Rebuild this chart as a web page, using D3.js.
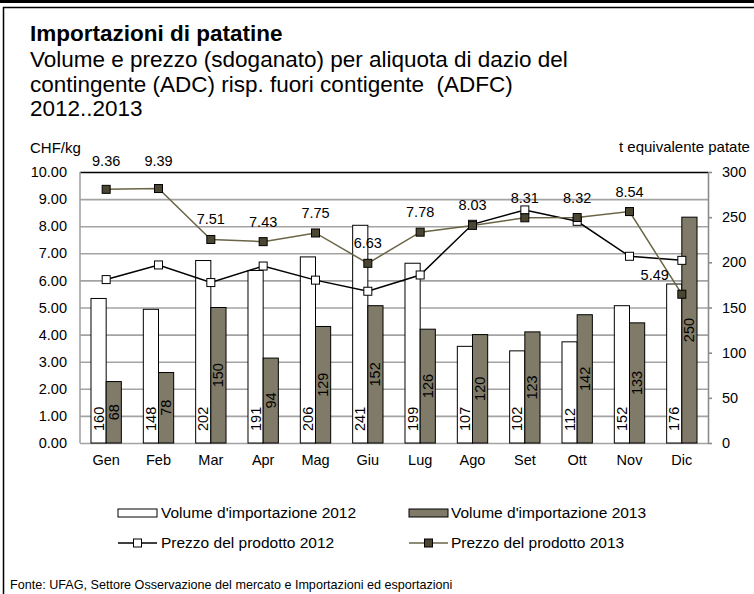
<!DOCTYPE html>
<html>
<head>
<meta charset="utf-8">
<script src="https://cdn.jsdelivr.net/npm/d3@7"></script>
<style>
  body { margin: 0; background: #fff; }
  svg text { font-family: "Liberation Sans", Arial, sans-serif; fill: #000; }
</style>
</head>
<body>
<script>
// data
var months = ["Gen","Feb","Mar","Apr","Mag","Giu","Lug","Ago","Set","Ott","Nov","Dic"];
var vol2012 = [160,148,202,191,206,241,199,107,102,112,152,176];
var vol2013 = [68,78,150,94,129,152,126,120,123,142,133,250];
var price2012 = [6.03,6.57,5.92,6.53,6.01,5.60,6.20,8.07,8.60,8.18,6.89,6.74];
var price2013 = [9.36,9.39,7.51,7.43,7.75,6.63,7.78,8.03,8.31,8.32,8.54,5.49];
var leftTicks = [0,1,2,3,4,5,6,7,8,9,10];
var rightTicks = [0,50,100,150,200,250,300];

var W = 754, H = 594;
var plot = {left: 80, right: 708, top: 172, bottom: 443};
var plotW = plot.right - plot.left;

var colBar13 = "#807b68";
var colLine13 = "#6b6446";
var colMark13 = "#4b4631";
var colGrid = "#a3a3a3";
var tickFont = "14.5px";

var svg = d3.select("body").append("svg")
    .attr("width", W)
    .attr("height", H);

//Frame
svg.append("rect").attr("x", 0).attr("y", 0).attr("width", W).attr("height", 3).attr("fill", "#000");
svg.append("rect")
    .attr("x", 3.5).attr("y", 7.5)
    .attr("width", W + 10).attr("height", H)
    .attr("fill", "none")
    .attr("stroke", "#000")
    .attr("stroke-width", 1.5);

//Title & subtitle
svg.append("text")
    .attr("x", 30).attr("y", 41)
    .style("font-size", "22.5px")
    .style("font-weight", "bold")
    .text("Importazioni di patatine");

var subLines = ["Volume e prezzo (sdoganato) per aliquota di dazio del",
                "contingente (ADC) risp. fuori contigente  (ADFC)",
                "2012..2013"];
svg.selectAll("text.sub")
    .data(subLines)
    .enter()
    .append("text")
    .attr("class", "sub")
    .attr("x", 30)
    .attr("y", function(d, i) { return 67 + i * 24.5; })
    .style("font-size", "22.5px")
    .style("white-space", "pre")
    .text(function(d) { return d; });

//Scales
var x = d3.scaleBand()
    .domain(months)
    .range([plot.left, plot.right]);

var yL = d3.scaleLinear().domain([0, 10]).range([plot.bottom, plot.top]);
var yR = d3.scaleLinear().domain([0, 300]).range([plot.bottom, plot.top]);

var barW = x.bandwidth() * 0.29;

//Left axis + gridlines
var gLeft = svg.append("g")
    .attr("transform", "translate(" + plot.left + ",0)")
    .call(d3.axisLeft(yL).tickValues(leftTicks).tickSize(-plotW).tickPadding(13).tickFormat(d3.format(".2f")));
gLeft.select(".domain").remove();
gLeft.selectAll(".tick line")
    .attr("stroke", function(d) { return d == 10 ? "#000" : colGrid; })
    .attr("stroke-width", 1.6);
gLeft.selectAll(".tick text")
    .style("font-size", tickFont)
    .style("font-family", "'Liberation Sans', Arial, sans-serif");

//plot border (left)
svg.append("line")
    .attr("x1", plot.left).attr("x2", plot.left)
    .attr("y1", plot.top).attr("y2", plot.bottom)
    .attr("stroke", colGrid).attr("stroke-width", 1.6);

//Right axis
var gRight = svg.append("g")
    .attr("transform", "translate(" + plot.right + ",0)")
    .call(d3.axisRight(yR).tickValues(rightTicks).tickSize(4).tickSizeOuter(0).tickPadding(10));
gRight.select(".domain").attr("stroke", "#8c8c8c").attr("stroke-width", 1.6);
gRight.selectAll(".tick line").attr("stroke", "#8c8c8c").attr("stroke-width", 1.6);
gRight.selectAll(".tick text")
    .style("font-size", tickFont)
    .style("font-family", "'Liberation Sans', Arial, sans-serif");

//X axis labels
var gX = svg.append("g")
    .attr("transform", "translate(0," + plot.bottom + ")")
    .call(d3.axisBottom(x).tickSize(0).tickPadding(12));
gX.select(".domain").remove();
gX.selectAll(".tick text")
    .style("font-size", tickFont)
    .style("font-family", "'Liberation Sans', Arial, sans-serif");

//Axis titles
svg.append("text").attr("x", 30).attr("y", 153).style("font-size", "15px").text("CHF/kg");
svg.append("text").attr("x", 619).attr("y", 152).style("font-size", "15px").text("t equivalente patate");

//Bars 2012
svg.selectAll("rect.b12")
    .data(months)
    .enter()
    .append("rect")
    .attr("class", "b12")
    .attr("x", function(d) { return x(d) + x.bandwidth() / 2 - barW; })
    .attr("y", function(d, i) { return yR(vol2012[i]); })
    .attr("width", barW)
    .attr("height", function(d, i) { return plot.bottom - yR(vol2012[i]); })
    .attr("fill", "#fff")
    .attr("stroke", "#000")
    .attr("stroke-width", 1);

//Bars 2013
svg.selectAll("rect.b13")
    .data(months)
    .enter()
    .append("rect")
    .attr("class", "b13")
    .attr("x", function(d) { return x(d) + x.bandwidth() / 2; })
    .attr("y", function(d, i) { return yR(vol2013[i]); })
    .attr("width", barW)
    .attr("height", function(d, i) { return plot.bottom - yR(vol2013[i]); })
    .attr("fill", colBar13)
    .attr("stroke", "#000")
    .attr("stroke-width", 1);

//Bar labels
svg.selectAll("text.l12")
    .data(months)
    .enter()
    .append("text")
    .attr("class", "l12")
    .attr("transform", function(d) {
        return "translate(" + (x(d) + x.bandwidth() / 2 - barW / 2) + "," + (plot.bottom - 12) + ") rotate(-90)";
    })
    .attr("dy", "0.35em")
    .style("font-size", tickFont)
    .text(function(d, i) { return vol2012[i]; });

svg.selectAll("text.l13")
    .data(months)
    .enter()
    .append("text")
    .attr("class", "l13")
    .attr("transform", function(d, i) {
        var cy = (yR(vol2013[i]) + plot.bottom) / 2;
        return "translate(" + (x(d) + x.bandwidth() / 2 + barW / 2) + "," + cy + ") rotate(-90)";
    })
    .attr("dy", "0.35em")
    .attr("text-anchor", "middle")
    .style("font-size", tickFont)
    .text(function(d, i) { return vol2013[i]; });

//Price lines
var cx = function(d) { return x(d) + x.bandwidth() / 2; };

var line12 = d3.line()
    .x(function(d, i) { return cx(months[i]); })
    .y(function(d) { return yL(d); });

svg.append("path")
    .datum(price2012)
    .attr("d", line12)
    .attr("fill", "none")
    .attr("stroke", "#000")
    .attr("stroke-width", 1.5);

svg.append("path")
    .datum(price2013)
    .attr("d", line12)
    .attr("fill", "none")
    .attr("stroke", colLine13)
    .attr("stroke-width", 1.5);

var ms = 8;
svg.selectAll("rect.m12")
    .data(price2012)
    .enter()
    .append("rect")
    .attr("class", "m12")
    .attr("x", function(d, i) { return cx(months[i]) - ms / 2; })
    .attr("y", function(d) { return yL(d) - ms / 2; })
    .attr("width", ms).attr("height", ms)
    .attr("fill", "#fff")
    .attr("stroke", "#000")
    .attr("stroke-width", 1);

svg.selectAll("rect.m13")
    .data(price2013)
    .enter()
    .append("rect")
    .attr("class", "m13")
    .attr("x", function(d, i) { return cx(months[i]) - ms / 2; })
    .attr("y", function(d) { return yL(d) - ms / 2; })
    .attr("width", ms).attr("height", ms)
    .attr("fill", colMark13)
    .attr("stroke", "#000")
    .attr("stroke-width", 1);

//Price labels 2013
svg.selectAll("text.p13")
    .data(price2013)
    .enter()
    .append("text")
    .attr("class", "p13")
    .attr("x", function(d, i) {
        return i == months.length - 1 ? cx(months[i]) - 13 : cx(months[i]);
    })
    .attr("y", function(d, i) {
        if (i == months.length - 1) return yL(d) - 14;
        var yy = yL(d) - 15;
        if (yy - 11 < plot.top) yy = plot.top - 6;
        return yy;
    })
    .attr("text-anchor", function(d, i) { return i == months.length - 1 ? "end" : "middle"; })
    .style("font-size", tickFont)
    .text(function(d) { return d3.format(".2f")(d); });

//Legend
var legY1 = 513, legY2 = 543;
var legend = svg.append("g");

legend.append("rect").attr("x", 118).attr("y", legY1 - 4).attr("width", 39).attr("height", 8)
    .attr("fill", "#fff").attr("stroke", "#000").attr("stroke-width", 1);
legend.append("text").attr("x", 161).attr("y", legY1).attr("dy", "0.35em")
    .style("font-size", "15.5px").text("Volume d'importazione 2012");

legend.append("rect").attr("x", 409).attr("y", legY1 - 4).attr("width", 39).attr("height", 8)
    .attr("fill", colBar13).attr("stroke", "#000").attr("stroke-width", 1);
legend.append("text").attr("x", 451).attr("y", legY1).attr("dy", "0.35em")
    .style("font-size", "15.5px").text("Volume d'importazione 2013");

legend.append("line").attr("x1", 118).attr("x2", 157).attr("y1", legY2).attr("y2", legY2)
    .attr("stroke", "#000").attr("stroke-width", 1.5);
legend.append("rect").attr("x", 137.5 - ms / 2).attr("y", legY2 - ms / 2).attr("width", ms).attr("height", ms)
    .attr("fill", "#fff").attr("stroke", "#000");
legend.append("text").attr("x", 161).attr("y", legY2).attr("dy", "0.35em")
    .style("font-size", "15.5px").text("Prezzo del prodotto 2012");

legend.append("line").attr("x1", 409).attr("x2", 448).attr("y1", legY2).attr("y2", legY2)
    .attr("stroke", colLine13).attr("stroke-width", 1.5);
legend.append("rect").attr("x", 428.5 - ms / 2).attr("y", legY2 - ms / 2).attr("width", ms).attr("height", ms)
    .attr("fill", colMark13).attr("stroke", "#000");
legend.append("text").attr("x", 451).attr("y", legY2).attr("dy", "0.35em")
    .style("font-size", "15.5px").text("Prezzo del prodotto 2013");

//Caption
svg.append("text")
    .attr("x", 10).attr("y", 589)
    .style("font-size", "12.6px")
    .text("Fonte: UFAG, Settore Osservazione del mercato e Importazioni ed esportazioni");
</script>
</body>
</html>
